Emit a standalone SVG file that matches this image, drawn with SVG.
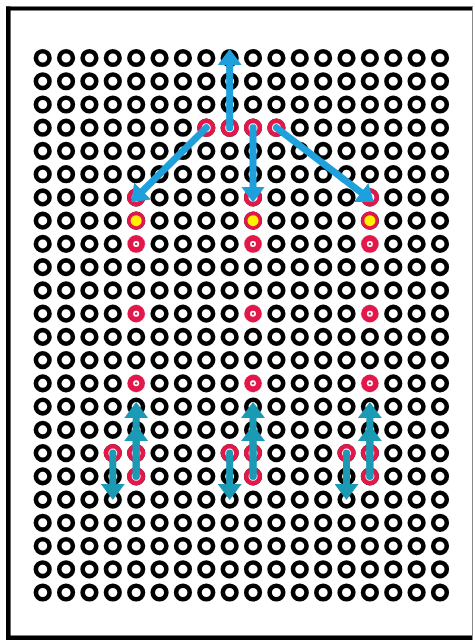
<svg xmlns="http://www.w3.org/2000/svg" xmlns:xlink="http://www.w3.org/1999/xlink" width="475" height="640" viewBox="0 0 475 640">
<style>
.h{fill:none;stroke:#000;stroke-width:4.6}
.r{fill:#fff;stroke:#e2184a;stroke-width:4.6}
.y{fill:#fff200;stroke:#e2184a;stroke-width:3.6}
.t1{fill:#e2184a}
.t2{fill:#fff}
.bg{fill:#fff}
.a1{stroke:#1ea0dc;stroke-width:7;stroke-linecap:round;fill:none;marker-end:url(#m1)}
.a2{stroke:#1b9ab6;stroke-width:7;stroke-linecap:round;fill:none;marker-end:url(#m2)}
</style>
<defs>
<marker id="m1" markerUnits="userSpaceOnUse" markerWidth="16" markerHeight="24" viewBox="0 0 16 24" refX="5" refY="12" orient="auto"><path d="M0,0 L16,12 L0,24 z" fill="#1ea0dc"/></marker>
<marker id="m2" markerUnits="userSpaceOnUse" markerWidth="16" markerHeight="24" viewBox="0 0 16 24" refX="5" refY="12" orient="auto"><path d="M0,0 L16,12 L0,24 z" fill="#1b9ab6"/></marker>
<g id="row">
<circle class="h" cx="42.7" cy="0" r="6.8"/><circle class="h" cx="66.07" cy="0" r="6.8"/><circle class="h" cx="89.44" cy="0" r="6.8"/><circle class="h" cx="112.81" cy="0" r="6.8"/><circle class="h" cx="136.18" cy="0" r="6.8"/><circle class="h" cx="159.55" cy="0" r="6.8"/><circle class="h" cx="182.92" cy="0" r="6.8"/><circle class="h" cx="206.29" cy="0" r="6.8"/><circle class="h" cx="229.66" cy="0" r="6.8"/><circle class="h" cx="253.03" cy="0" r="6.8"/><circle class="h" cx="276.4" cy="0" r="6.8"/><circle class="h" cx="299.77" cy="0" r="6.8"/><circle class="h" cx="323.14" cy="0" r="6.8"/><circle class="h" cx="346.51" cy="0" r="6.8"/><circle class="h" cx="369.88" cy="0" r="6.8"/><circle class="h" cx="393.25" cy="0" r="6.8"/><circle class="h" cx="416.62" cy="0" r="6.8"/><circle class="h" cx="439.99" cy="0" r="6.8"/>
</g>
<g id="tgt"><circle class="bg" r="9.6"/><circle class="t1" r="8.8"/><circle class="t2" r="3"/><circle class="t1" r="1.2"/></g>
</defs>
<rect width="475" height="640" fill="#fff"/>
<g id="frame">
<path d="M8.3,6.5 V640" stroke="#000" stroke-width="4.6" fill="none"/>
<path d="M6,8.5 H473" stroke="#000" stroke-width="4" fill="none"/>
<path d="M6,637.8 H473" stroke="#000" stroke-width="4.4" fill="none"/>
<path d="M472.5,6.5 V640" stroke="#888" stroke-width="1" fill="none"/>
</g>
<g id="holes">
<use xlink:href="#row" y="58"/><use xlink:href="#row" y="81.24"/><use xlink:href="#row" y="104.48"/><use xlink:href="#row" y="127.72"/><use xlink:href="#row" y="150.96"/><use xlink:href="#row" y="174.2"/><use xlink:href="#row" y="197.44"/><use xlink:href="#row" y="220.68"/><use xlink:href="#row" y="243.92"/><use xlink:href="#row" y="267.16"/><use xlink:href="#row" y="290.4"/><use xlink:href="#row" y="313.64"/><use xlink:href="#row" y="336.88"/><use xlink:href="#row" y="360.12"/><use xlink:href="#row" y="383.36"/><use xlink:href="#row" y="406.6"/><use xlink:href="#row" y="429.84"/><use xlink:href="#row" y="453.08"/><use xlink:href="#row" y="476.32"/><use xlink:href="#row" y="499.56"/><use xlink:href="#row" y="522.8"/><use xlink:href="#row" y="546.04"/><use xlink:href="#row" y="569.28"/><use xlink:href="#row" y="592.52"/>
</g>
<g id="red-holes">
<circle class="r" cx="206.29" cy="127.72" r="6.8"/><circle class="r" cx="229.66" cy="127.72" r="6.8"/><circle class="r" cx="253.03" cy="127.72" r="6.8"/><circle class="r" cx="276.4" cy="127.72" r="6.8"/>
<circle class="r" cx="136.18" cy="197.44" r="6.8"/><circle class="r" cx="253.03" cy="197.44" r="6.8"/><circle class="r" cx="369.88" cy="197.44" r="6.8"/>
<circle class="r" cx="112.81" cy="453.08" r="6.8"/><circle class="r" cx="136.18" cy="453.08" r="6.8"/><circle class="r" cx="136.18" cy="476.32" r="6.8"/>
<circle class="r" cx="229.66" cy="453.08" r="6.8"/><circle class="r" cx="253.03" cy="453.08" r="6.8"/><circle class="r" cx="253.03" cy="476.32" r="6.8"/>
<circle class="r" cx="346.51" cy="453.08" r="6.8"/><circle class="r" cx="369.88" cy="453.08" r="6.8"/><circle class="r" cx="369.88" cy="476.32" r="6.8"/>
</g>
<g id="yellow-holes">
<circle class="y" cx="136.18" cy="220.68" r="7.3"/><circle class="y" cx="253.03" cy="220.68" r="7.3"/><circle class="y" cx="369.88" cy="220.68" r="7.3"/>
</g>
<g id="targets">
<use xlink:href="#tgt" x="136.18" y="243.92"/><use xlink:href="#tgt" x="253.03" y="243.92"/><use xlink:href="#tgt" x="369.88" y="243.92"/>
<use xlink:href="#tgt" x="136.18" y="313.64"/><use xlink:href="#tgt" x="253.03" y="313.64"/><use xlink:href="#tgt" x="369.88" y="313.64"/>
<use xlink:href="#tgt" x="136.18" y="383.36"/><use xlink:href="#tgt" x="253.03" y="383.36"/><use xlink:href="#tgt" x="369.88" y="383.36"/>
</g>
<g id="connectors">
<line class="a1" x1="229.66" y1="127.72" x2="229.66" y2="60"/>
<line class="a1" x1="206.29" y1="127.72" x2="139.1" y2="194.45"/>
<line class="a1" x1="253.03" y1="127.72" x2="253.03" y2="191.5"/>
<line class="a1" x1="276.4" y1="127.72" x2="365.05" y2="195.43"/>
<line class="a2" x1="112.81" y1="453.08" x2="112.81" y2="489"/>
<line class="a2" x1="136.18" y1="476.32" x2="136.18" y2="413"/>
<line class="a2" x1="136.18" y1="476.32" x2="136.18" y2="436"/>
<line class="a2" x1="229.66" y1="453.08" x2="229.66" y2="489"/>
<line class="a2" x1="253.03" y1="476.32" x2="253.03" y2="413"/>
<line class="a2" x1="253.03" y1="476.32" x2="253.03" y2="436"/>
<line class="a2" x1="346.51" y1="453.08" x2="346.51" y2="489"/>
<line class="a2" x1="369.88" y1="476.32" x2="369.88" y2="413"/>
<line class="a2" x1="369.88" y1="476.32" x2="369.88" y2="436"/>
</g>
</svg>
